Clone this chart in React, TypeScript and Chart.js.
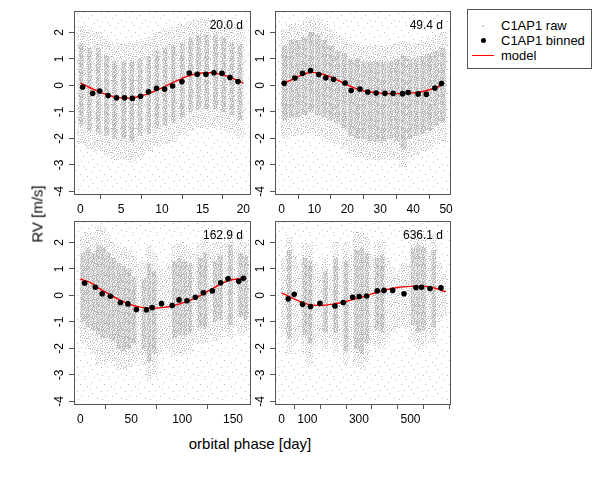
import React, { useEffect, useRef } from 'react';
import { Chart, registerables } from 'chart.js';
Chart.register(...registerables);

// ---------------- data ----------------
const PERIOD_LABELS = ['20.0 d', '49.4 d', '162.9 d', '636.1 d'];
const Y_TICKS = [-4, -3, -2, -1, 0, 1, 2];
const Y_RANGE = [-4.097, 2.8];

const X1_TICKS = [0, 5, 10, 15, 20];
const X2_TICKS = [0, 10, 20, 30, 40, 50];
const X3_TICKS = [0, 50, 100, 150];
const X4_TICKS = [0, 100, 200, 300, 400, 500, 600];
const X4_LABELED = [0, 100, 300, 500];

const X1_RANGE = [-0.79, 20.82];
const X2_RANGE = [-2.0, 51.2];
const X3_RANGE = [-6.3, 166.7];
const X4_RANGE = [-25.5, 653];

// raw cloud: sparse background envelope per panel
const RAW1_BG = [-3.95, 2.75];
const RAW2_BG = [-3.95, 2.75];
const RAW3_BG = [-3.95, 2.75];
const RAW4_BG = [-3.95, 2.75];

// raw cloud columns (phase), dense core and outer envelope
const RAW1_X = [0.1, 1.1, 2.2, 3.2, 4.2, 5.3, 6.3, 7.3, 8.4, 9.4, 10.4, 11.4, 12.5, 13.5, 14.5, 15.5, 16.6, 17.6, 18.6, 19.6];
const RAW1_CORE_LO = [-1.5, -1.7, -1.8, -1.9, -2.0, -2.0, -2.1, -1.9, -1.8, -1.6, -1.5, -1.4, -1.2, -1.0, -0.9, -0.9, -0.9, -1.0, -1.1, -1.3];
const RAW1_CORE_HI = [1.6, 1.4, 1.4, 1.1, 0.9, 0.9, 0.9, 1.0, 1.1, 1.3, 1.4, 1.5, 1.6, 1.8, 1.9, 1.9, 1.9, 1.8, 1.6, 1.5];
const RAW1_OUT_LO = [-2.2, -2.4, -2.5, -2.6, -2.8, -2.8, -2.9, -2.7, -2.5, -2.3, -2.2, -2.1, -1.9, -1.7, -1.6, -1.6, -1.6, -1.7, -1.8, -2.0];
const RAW1_OUT_HI = [2.2, 2.1, 2.0, 1.8, 1.6, 1.6, 1.6, 1.7, 1.8, 2.0, 2.1, 2.2, 2.3, 2.4, 2.5, 2.5, 2.5, 2.4, 2.3, 2.2];

const RAW2_X = [1, 3, 5, 7, 9, 11, 13, 15, 17, 19, 21, 23, 25, 27, 29, 31, 33, 35, 37, 39, 41, 43, 45, 47, 49];
const RAW2_CORE_LO = [-1.3, -1.2, -1.2, -1.1, -1.0, -1.1, -1.2, -1.3, -1.4, -1.6, -1.9, -2.0, -2.0, -2.1, -2.1, -2.1, -2.0, -2.1, -2.4, -2.0, -1.9, -1.8, -1.7, -1.5, -1.4];
const RAW2_CORE_HI = [1.5, 1.7, 1.7, 1.8, 2.0, 1.9, 1.7, 1.5, 1.3, 1.2, 1.0, 1.0, 0.9, 0.9, 0.9, 0.9, 0.9, 1.0, 1.1, 1.0, 1.0, 1.1, 1.2, 1.3, 1.4];
const RAW2_OUT_LO = [-2.0, -1.9, -1.9, -1.8, -1.8, -1.9, -2.0, -2.1, -2.2, -2.4, -2.6, -2.7, -2.7, -2.8, -2.8, -2.8, -2.7, -2.8, -3.1, -2.7, -2.6, -2.5, -2.4, -2.2, -2.1];
const RAW2_OUT_HI = [2.1, 2.3, 2.3, 2.4, 2.6, 2.5, 2.3, 2.1, 1.9, 1.8, 1.6, 1.6, 1.5, 1.5, 1.5, 1.5, 1.5, 1.6, 1.7, 1.6, 1.6, 1.7, 1.8, 1.9, 2.0];

const RAW3_X = [2.5, 7.5, 12.5, 17.5, 22.5, 27.5, 32.5, 37.5, 42.5, 47.5, 52.5, 57.5, 62.5, 67.5, 72.5, 77.5, 82.5, 87.5, 92.5, 97.5, 102.5, 107.5, 112.5, 117.5, 122.5, 127.5, 132.5, 137.5, 142.5, 147.5, 152.5, 157.5, 162.5];
const RAW3_CORE_LO = [-1.0, -1.2, -1.3, -1.5, -1.6, -1.6, -1.7, -2.0, -2.1, -2.0, -1.8, null, -2.0, -2.5, -2.2, null, null, null, -1.6, -1.5, -1.5, -1.4, null, -1.2, -1.2, null, -1.0, -0.9, null, -1.1, null, -0.8, -0.9];
const RAW3_CORE_HI = [1.6, 1.8, 1.6, 1.9, 1.8, 1.6, 1.4, 1.2, 1.1, 1.0, 0.7, null, 0.6, 1.2, 0.9, null, null, null, 1.3, 1.4, 1.3, 1.2, null, 1.4, 1.6, null, 1.3, 1.5, null, 1.9, null, 1.6, 1.5];
const RAW3_OUT_LO = [-1.8, -2.0, -2.2, -2.6, -2.6, -2.5, -2.5, -2.8, -2.8, -2.7, -2.5, -2.3, -2.6, -3.2, -3.0, -2.2, -2.0, -2.0, -2.3, -2.2, -2.2, -2.1, -1.8, -1.8, -1.8, -1.5, -1.7, -1.6, -1.4, -1.6, -1.2, -1.5, -1.4];
const RAW3_OUT_HI = [2.2, 2.4, 2.2, 2.6, 2.5, 2.2, 2.0, 1.9, 1.8, 1.7, 1.5, 1.2, 1.3, 1.9, 1.6, 1.0, 1.0, 1.2, 1.9, 2.0, 1.9, 1.8, 1.6, 2.0, 2.2, 1.8, 2.0, 2.0, 2.0, 2.4, 1.8, 2.2, 2.0];

const RAW4_X = [10, 30, 50, 70, 90, 110, 130, 150, 170, 190, 210, 230, 250, 270, 290, 310, 330, 350, 370, 390, 410, 430, 450, 470, 490, 510, 530, 550, 570, 590, 610, 630];
const RAW4_CORE_LO = [null, -1.6, null, null, -1.5, -1.8, null, null, -1.4, null, -1.4, null, -2.1, null, -2.0, -2.2, -1.8, null, -1.3, -1.4, null, null, null, null, null, -1.1, -1.4, -1.3, null, -1.2, null, null];
const RAW4_CORE_HI = [null, 1.7, null, null, 1.4, 1.3, null, null, 0.9, null, 1.4, null, 1.3, null, 1.7, 1.8, 1.6, null, 1.4, 1.5, null, null, null, null, null, 1.8, 1.9, 1.8, null, 1.7, null, null];
const RAW4_OUT_LO = [-1.5, -2.2, -1.8, -1.6, -2.2, -2.6, -2.0, -1.6, -2.0, -1.6, -2.1, -1.8, -2.6, -2.0, -2.6, -2.8, -2.5, -1.8, -2.0, -2.0, -1.6, -1.4, -1.2, -1.2, -1.2, -1.7, -2.0, -1.9, -1.5, -1.8, -1.0, -0.8];
const RAW4_OUT_HI = [1.4, 2.2, 1.5, 1.3, 2.0, 1.9, 1.2, 0.9, 1.4, 0.9, 2.0, 1.2, 2.0, 1.5, 2.4, 2.4, 2.2, 1.5, 2.0, 2.1, 1.4, 1.0, 0.8, 1.2, 1.2, 2.3, 2.4, 2.3, 1.6, 2.3, 1.2, 0.8];

// binned points
const BIN1_X = [0.28, 1.5, 2.37, 3.4, 4.43, 5.41, 6.37, 7.38, 8.36, 9.34, 10.33, 11.31, 12.46, 13.36, 14.34, 15.41, 16.39, 17.38, 18.36, 19.34];
const BIN1_Y = [-0.06, -0.30, -0.21, -0.38, -0.47, -0.47, -0.49, -0.41, -0.24, -0.11, -0.14, -0.02, 0.15, 0.47, 0.42, 0.42, 0.48, 0.46, 0.30, 0.15];
const BIN1_ERR = [0.05, 0.05, 0.05, 0.05, 0.05, 0.05, 0.05, 0.05, 0.05, 0.05, 0.05, 0.05, 0.05, 0.05, 0.05, 0.05, 0.05, 0.05, 0.05, 0.05];

const BIN2_X = [0.8, 4.05, 6.39, 8.8, 11.3, 13.45, 15.8, 19.3, 21.15, 23.8, 26.2, 28.75, 31.4, 33.9, 36.75, 38.5, 41.5, 44.0, 46.6, 48.6];
const BIN2_Y = [0.08, 0.28, 0.46, 0.56, 0.41, 0.29, 0.23, 0.09, -0.19, -0.14, -0.25, -0.29, -0.30, -0.30, -0.31, -0.27, -0.32, -0.33, -0.10, 0.07];
const BIN2_ERR = [0.05, 0.05, 0.05, 0.05, 0.05, 0.05, 0.05, 0.05, 0.05, 0.05, 0.05, 0.05, 0.05, 0.05, 0.05, 0.05, 0.05, 0.05, 0.05, 0.05];

const BIN3_X = [4.2, 14.7, 21.4, 29.5, 39.3, 46.7, 55.0, 64.9, 70.5, 79.7, 90.2, 97.0, 104.8, 113.0, 120.9, 129.7, 137.9, 145.1, 155.6, 160.2];
const BIN3_Y = [0.47, 0.31, 0.06, -0.03, -0.27, -0.32, -0.53, -0.54, -0.46, -0.31, -0.38, -0.17, -0.20, -0.07, 0.10, 0.17, 0.48, 0.63, 0.53, 0.65];
const BIN3_ERR = [0.05, 0.05, 0.05, 0.05, 0.05, 0.05, 0.05, 0.05, 0.05, 0.05, 0.05, 0.05, 0.05, 0.05, 0.05, 0.05, 0.05, 0.05, 0.05, 0.06];

const BIN4_X = [25.6, 48.9, 81.5, 112.5, 148.6, 206.8, 239, 275.5, 301, 329.8, 371, 397, 430.7, 474.6, 521, 543, 575.5, 618];
const BIN4_Y = [-0.13, 0.04, -0.33, -0.42, -0.30, -0.40, -0.27, -0.07, -0.04, -0.02, 0.17, 0.19, 0.19, 0.06, 0.30, 0.31, 0.26, 0.29];
const BIN4_ERR = [0.05, 0.05, 0.05, 0.05, 0.05, 0.05, 0.05, 0.05, 0.05, 0.05, 0.05, 0.05, 0.05, 0.07, 0.05, 0.05, 0.05, 0.1];

// model curves
const MOD1_X = [0, 1, 2, 3, 4, 5, 6, 7, 8, 9, 10, 11, 12, 13, 14, 15, 16, 17, 18, 19, 20];
const MOD1_Y = [0.09, -0.06, -0.20, -0.33, -0.42, -0.47, -0.48, -0.43, -0.35, -0.23, -0.09, 0.06, 0.20, 0.33, 0.42, 0.47, 0.48, 0.43, 0.35, 0.23, 0.09];
const MOD2_X = [0, 2.5, 5, 7.5, 9.5, 12, 15, 17.5, 20, 22.5, 25, 27.5, 30, 32.5, 35, 37.5, 40, 42.5, 45, 47.5, 49.4];
const MOD2_Y = [0.05, 0.18, 0.33, 0.45, 0.49, 0.44, 0.32, 0.17, 0.02, -0.11, -0.21, -0.26, -0.29, -0.31, -0.31, -0.30, -0.28, -0.24, -0.16, -0.05, 0.05];
const MOD3_X = [0, 10, 20, 30, 40, 50, 60, 70, 80, 90, 100, 110, 120, 130, 140, 150, 160, 162.9];
const MOD3_Y = [0.62, 0.48, 0.23, 0.01, -0.20, -0.36, -0.45, -0.48, -0.46, -0.40, -0.29, -0.15, 0.04, 0.26, 0.47, 0.60, 0.63, 0.62];
const MOD4_X = [0, 50, 100, 150, 200, 250, 300, 350, 400, 450, 500, 550, 600, 636.1];
const MOD4_Y = [0.10, -0.14, -0.33, -0.38, -0.33, -0.23, -0.09, 0.06, 0.20, 0.30, 0.34, 0.35, 0.26, 0.13];

// ---------------- styles ----------------
const FONT = '"Liberation Sans", Arial, Helvetica, sans-serif';
const RAW_COLOR = '#bebebe';
const AXIS_COLOR = '#555555';
const MODEL_COLOR = '#ff0000';

const DENSE_TILE = ['##.#.###', '#.###.#.', '.##.####', '###.#.#.', '#.####.#', '.#.##.##', '##.#.##.', '#.##.#.#'];
const MID_TILE = [
  '#..#....#...', '......#....#', '..#..#......', '#.......#.#.',
  '....#.#.....', '.#.........#', '...#..#.#...', '#.........#.',
  '..#.#.#.....', '.......#...#', '.#.#......#.', '.....#..#...',
];
const SPARSE_SIZE = 24;
const SPARSE_DOTS = [[3, 1], [17, 2], [9, 4], [22, 6], [5, 8], [14, 9], [1, 12], [19, 13], [10, 15], [6, 18], [23, 17], [15, 20], [2, 22], [12, 23], [20, 21], [8, 11]];

const PANELS = [
  { left: 74, top: 9, w: 176, h: 185, xr: X1_RANGE, xt: X1_TICKS, xl: X1_TICKS, bg: RAW1_BG, rx: RAW1_X, clo: RAW1_CORE_LO, chi: RAW1_CORE_HI, olo: RAW1_OUT_LO, ohi: RAW1_OUT_HI, bx: BIN1_X, by: BIN1_Y, be: BIN1_ERR, mx: MOD1_X, my: MOD1_Y, midW: 8, coreW: 4 },
  { left: 275, top: 9, w: 175, h: 185, xr: X2_RANGE, xt: X2_TICKS, xl: X2_TICKS, bg: RAW2_BG, rx: RAW2_X, clo: RAW2_CORE_LO, chi: RAW2_CORE_HI, olo: RAW2_OUT_LO, ohi: RAW2_OUT_HI, bx: BIN2_X, by: BIN2_Y, be: BIN2_ERR, mx: MOD2_X, my: MOD2_Y, midW: 7, coreW: 5 },
  { left: 74, top: 219, w: 176, h: 185, xr: X3_RANGE, xt: X3_TICKS, xl: X3_TICKS, bg: RAW3_BG, rx: RAW3_X, clo: RAW3_CORE_LO, chi: RAW3_CORE_HI, olo: RAW3_OUT_LO, ohi: RAW3_OUT_HI, bx: BIN3_X, by: BIN3_Y, be: BIN3_ERR, mx: MOD3_X, my: MOD3_Y, midW: 6, coreW: 4 },
  { left: 275, top: 219, w: 175, h: 185, xr: X4_RANGE, xt: X4_TICKS, xl: X4_LABELED, bg: RAW4_BG, rx: RAW4_X, clo: RAW4_CORE_LO, chi: RAW4_CORE_HI, olo: RAW4_OUT_LO, ohi: RAW4_OUT_HI, bx: BIN4_X, by: BIN4_Y, be: BIN4_ERR, mx: MOD4_X, my: MOD4_Y, midW: 6, coreW: 4 },
];

const PAD_L = 40, PAD_T = 9, PAD_R = 8, PAD_B = 26;

function tileCanvas(w: number, h: number) {
  const c = document.createElement('canvas');
  c.width = w;
  c.height = h;
  return c;
}

function patternFromRows(rows: string[], color: string): CanvasPattern | string {
  const c = tileCanvas(rows[0].length, rows.length);
  const g = c.getContext('2d');
  if (!g) return color;
  g.fillStyle = color;
  rows.forEach((r, y) => {
    for (let x = 0; x < r.length; x++) if (r[x] === '#') g.fillRect(x, y, 1, 1);
  });
  return g.createPattern(c, 'repeat') || color;
}

function patternFromDots(size: number, dots: number[][], color: string): CanvasPattern | string {
  const c = tileCanvas(size, size);
  const g = c.getContext('2d');
  if (!g) return color;
  g.fillStyle = color;
  dots.forEach(([x, y]) => g.fillRect(x, y, 1, 1));
  return g.createPattern(c, 'repeat') || color;
}

const boxPlugin = {
  id: 'rbox',
  afterDatasetsDraw(chart: any) {
    const { ctx } = chart;
    const ys = chart.scales.y;
    ctx.save();
    chart.data.datasets.forEach((ds: any, i: number) => {
      if (!ds.errors) return;
      const meta = chart.getDatasetMeta(i);
      ctx.strokeStyle = '#000';
      ctx.lineWidth = 1;
      meta.data.forEach((el: any, j: number) => {
        const v = ds.data[j].y;
        const e = ds.errors[j];
        ctx.beginPath();
        ctx.moveTo(el.x, ys.getPixelForValue(v - e));
        ctx.lineTo(el.x, ys.getPixelForValue(v + e));
        ctx.stroke();
      });
    });
    ctx.restore();
  },
  afterDraw(chart: any) {
    const { ctx, chartArea: a } = chart;
    ctx.save();
    ctx.strokeStyle = AXIS_COLOR;
    ctx.lineWidth = 1;
    ctx.strokeRect(Math.round(a.left) + 0.5, Math.round(a.top) + 0.5, Math.round(a.right - a.left), Math.round(a.bottom - a.top));
    ctx.restore();
  },
};

function Panel({ p }: { p: any }) {
  const ref = useRef<HTMLCanvasElement>(null);
  useEffect(() => {
    if (!ref.current) return;
    const dense = patternFromRows(DENSE_TILE, RAW_COLOR);
    const mid = patternFromRows(MID_TILE, RAW_COLOR);
    const sparse = patternFromDots(SPARSE_SIZE, SPARSE_DOTS, RAW_COLOR);
    const bgData = [{ x: (p.xr[0] + p.xr[1]) / 2, y: [p.bg[0], p.bg[1]] }];
    const midData = p.rx.map((x: number, i: number) => ({ x, y: [p.olo[i], p.ohi[i]] }));
    const coreData = p.rx
      .map((x: number, i: number) => (p.clo[i] === null ? null : { x, y: [p.clo[i], p.chi[i]] }))
      .filter((d: any) => d !== null);
    const binData = p.bx.map((x: number, i: number) => ({ x, y: p.by[i] }));
    const modData = p.mx.map((x: number, i: number) => ({ x, y: p.my[i] }));
    const tickFont = { family: FONT, size: 12 };
    const chart = new Chart(ref.current, {
      type: 'scatter',
      data: {
        datasets: [
          { type: 'bar', data: bgData, backgroundColor: sparse, barThickness: p.w, grouped: false, borderWidth: 0, order: 5 } as any,
          { type: 'bar', data: midData, backgroundColor: mid, barThickness: p.midW, grouped: false, borderWidth: 0, order: 4 } as any,
          { type: 'bar', data: coreData, backgroundColor: dense, barThickness: p.coreW, grouped: false, borderWidth: 0, order: 3 } as any,
          { type: 'line', data: modData, borderColor: MODEL_COLOR, borderWidth: 1.4, pointRadius: 0, cubicInterpolationMode: 'monotone', fill: false, order: 2 } as any,
          { type: 'scatter', data: binData, backgroundColor: '#000', borderWidth: 0, pointRadius: 2.8, errors: p.be, order: 1 } as any,
        ],
      },
      options: {
        responsive: false,
        animation: false,
        devicePixelRatio: 1,
        layout: { padding: { left: 0, top: PAD_T, right: PAD_R, bottom: 0 } },
        plugins: { legend: { display: false }, tooltip: { enabled: false } },
        scales: {
          x: {
            type: 'linear',
            min: p.xr[0],
            max: p.xr[1],
            offset: false,
            afterFit: (s: any) => { s.height = PAD_B; },
            afterBuildTicks: (s: any) => { s.ticks = p.xt.map((v: number) => ({ value: v })); },
            grid: { drawOnChartArea: false, drawTicks: true, tickLength: 5, color: AXIS_COLOR },
            border: { display: false },
            ticks: {
              color: '#000', font: tickFont, padding: 3, maxRotation: 0, minRotation: 0, autoSkip: false,
              callback: (v: any) => (p.xl.includes(v) ? String(v) : ''),
            },
          },
          y: {
            type: 'linear',
            min: Y_RANGE[0],
            max: Y_RANGE[1],
            afterFit: (s: any) => { s.width = PAD_L; },
            afterBuildTicks: (s: any) => { s.ticks = Y_TICKS.map((v) => ({ value: v })); },
            grid: { drawOnChartArea: false, drawTicks: true, tickLength: 5, color: AXIS_COLOR },
            border: { display: false },
            ticks: {
              color: '#000', font: tickFont, padding: 4, minRotation: 90, maxRotation: 90, crossAlign: 'center', autoSkip: false,
              callback: (v: any) => String(v),
            },
          },
        },
      } as any,
      plugins: [boxPlugin],
    });
    return () => chart.destroy();
  }, [p]);
  return (
    <canvas
      ref={ref}
      width={p.w + PAD_L + PAD_R}
      height={p.h + PAD_T + PAD_B}
      style={{ position: 'absolute', left: p.left - PAD_L, top: p.top - PAD_T }}
    />
  );
}

export default function App() {
  const txt: React.CSSProperties = { position: 'absolute', fontFamily: FONT, color: '#000', whiteSpace: 'nowrap' };
  return (
    <div style={{ position: 'fixed', left: 0, top: 0, width: 600, height: 480, background: '#fff', overflow: 'hidden' }}>
      {PANELS.map((p, i) => (
        <Panel key={i} p={p} />
      ))}
      {PANELS.map((p, i) => (
        <div key={'l' + i} style={{ ...txt, fontSize: 12, lineHeight: '14px', left: p.left + p.w - 107, width: 100, textAlign: 'right', top: p.top + 9 }}>
          {PERIOD_LABELS[i]}
        </div>
      ))}
      <div style={{ ...txt, fontSize: 15, lineHeight: '17px', left: 37, top: 214, transform: 'translate(-50%, -50%) rotate(-90deg)' }}>RV [m/s]</div>
      <div style={{ ...txt, fontSize: 15, lineHeight: '17px', left: 250, top: 443, transform: 'translate(-50%, -50%)' }}>orbital phase [day]</div>
      <div style={{ position: 'absolute', left: 467, top: 9, width: 123, height: 58, border: '1px solid ' + AXIS_COLOR, boxSizing: 'content-box' }}>
        <div style={{ position: 'absolute', left: 14, top: 15, width: 2, height: 2, borderRadius: 1, background: RAW_COLOR }} />
        <div style={{ position: 'absolute', left: 13, top: 28, width: 5, height: 5, borderRadius: 3, background: '#000' }} />
        <div style={{ position: 'absolute', left: 4, top: 45, width: 22, height: 1, background: MODEL_COLOR }} />
        <div style={{ ...txt, fontSize: 13, lineHeight: '15px', left: 33, top: 8 }}>C1AP1 raw</div>
        <div style={{ ...txt, fontSize: 13, lineHeight: '15px', left: 33, top: 23 }}>C1AP1 binned</div>
        <div style={{ ...txt, fontSize: 13, lineHeight: '15px', left: 33, top: 38 }}>model</div>
      </div>
    </div>
  );
}
